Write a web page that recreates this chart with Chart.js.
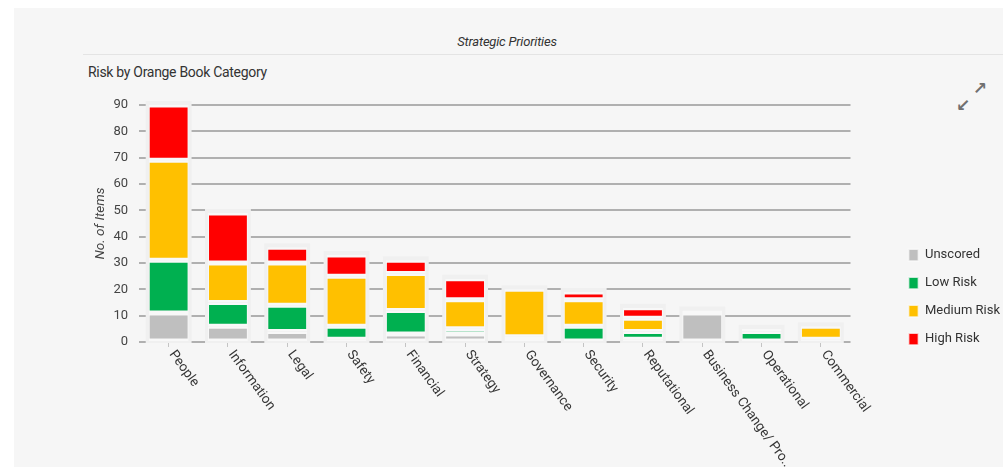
<!DOCTYPE html>
<html lang="en">
<head>
    <meta charset="UTF-8">
    <title>Strategic Priorities - Risk by Orange Book Category</title>
    <script src="https://cdn.jsdelivr.net/npm/chart.js"></script>
    <style>
        body {
            margin: 0;
            width: 1003px;
            height: 467px;
            overflow: hidden;
            background: #ffffff;
            font-family: Roboto, sans-serif;
            position: relative;
        }

        .panel {
            position: absolute;
            left: 14px;
            top: 8px;
            right: 0;
            bottom: 0;
            background: #f6f6f6;
        }

        .header-line {
            position: absolute;
            left: 83px;
            right: 0;
            top: 54px;
            height: 1px;
            background: #e4e4e4;
        }

        .page-title {
            position: absolute;
            left: 407px;
            width: 200px;
            top: 34px;
            line-height: 16px;
            text-align: center;
            font-size: 13px;
            font-style: italic;
            letter-spacing: -0.2px;
            color: #333;
        }

        .chart-title {
            position: absolute;
            left: 88px;
            top: 64px;
            line-height: 16px;
            font-size: 14px;
            letter-spacing: -0.3px;
            color: #333;
        }

        .expand {
            position: absolute;
            font-family: "DejaVu Sans", sans-serif;
            font-size: 17px;
            font-weight: bold;
            color: #707070;
            line-height: 17px;
        }

        .chart-box {
            position: absolute;
            left: 14px;
            top: 60px;
            width: 1002px;
            height: 429px;
        }
    </style>
</head>
<body>
    <div class="panel"></div>
    <div class="header-line"></div>
    <div class="page-title">Strategic Priorities</div>
    <div class="chart-title">Risk by Orange Book Category</div>
    <span class="expand" style="left: 973px; top: 80px;">&#8599;</span>
    <span class="expand" style="left: 956px; top: 97px;">&#8601;</span>

    <div class="chart-box">
        <canvas id="riskChart"></canvas>
    </div>

    <script>
        // Data
        const categories = ['People', 'Information', 'Legal', 'Safety', 'Financial', 'Strategy',
            'Governance', 'Security', 'Reputational', 'Business Change/ Pro...', 'Operational', 'Commercial'];
        const unscored = [11, 6, 4, 1, 3, 3, 2, 0, 1, 11, 0, 1];
        const lowRisk = [20, 9, 10, 5, 9, 2, 0, 6, 3, 0, 4, 0];
        const mediumRisk = [38, 15, 16, 19, 14, 11, 18, 10, 5, 0, 0, 5];
        const highRisk = [21, 19, 6, 8, 5, 8, 0, 3, 4, 1, 1, 0];
        const yTicks = [0, 10, 20, 30, 40, 50, 60, 70, 80, 90];

        Chart.defaults.font.family = 'Roboto, sans-serif';
        Chart.defaults.font.size = 13;
        Chart.defaults.color = '#444';

        // light box behind each whole stack
        const stackBoxes = {
            id: 'stackBoxes',
            beforeDatasetsDraw(chart) {
                const ctx = chart.ctx;
                const metas = chart.getSortedVisibleDatasetMetas();
                const bottom = chart.chartArea.bottom;
                ctx.save();
                ctx.fillStyle = '#f0f0f0';
                categories.forEach((c, i) => {
                    let top = bottom;
                    let x = 0, w = 0;
                    metas.forEach(m => {
                        const el = m.data[i];
                        top = Math.min(top, el.y, el.base);
                        x = el.x;
                        w = el.width;
                    });
                    ctx.fillRect(x - w / 2 - 3, top - 4, w + 6, bottom - top + 5);
                });
                ctx.restore();
            }
        };

        // slanted category labels, reading down to the right
        const slantedLabels = {
            id: 'slantedLabels',
            afterDraw(chart) {
                const ctx = chart.ctx;
                const xs = chart.scales.x;
                ctx.save();
                ctx.font = '13.5px Roboto, sans-serif';
                ctx.fillStyle = '#363636';
                ctx.textAlign = 'left';
                ctx.textBaseline = 'middle';
                categories.forEach((label, i) => {
                    ctx.save();
                    ctx.translate(xs.getPixelForValue(i) + 3, xs.top + 10);
                    ctx.rotate(54 * Math.PI / 180);
                    ctx.fillText(label, 0, 0);
                    ctx.restore();
                });
                ctx.restore();
            }
        };

        function segment(label, data, color) {
            return {
                label: label,
                data: data,
                backgroundColor: color,
                borderColor: 'rgba(250, 250, 250, 0.8)',
                borderWidth: { top: 2.5, bottom: 2.5, left: 1, right: 1 },
                borderSkipped: false,
                barPercentage: 0.84,
                stack: 'risk'
            };
        }

        const ctx = document.getElementById('riskChart').getContext('2d');
        new Chart(ctx, {
            type: 'bar',
            data: {
                labels: categories,
                datasets: [
                    segment('Unscored', unscored, '#bfbfbf'),
                    segment('Low Risk', lowRisk, '#00b050'),
                    segment('Medium Risk', mediumRisk, '#ffc000'),
                    segment('High Risk', highRisk, '#ff0000')
                ]
            },
            options: {
                responsive: true,
                maintainAspectRatio: false,
                animation: false,
                layout: {
                    padding: { top: 45, left: 0, right: 6, bottom: 0 }
                },
                plugins: {
                    legend: {
                        position: 'right',
                        labels: {
                            boxWidth: 10,
                            boxHeight: 12,
                            padding: 15,
                            color: '#333',
                            font: { size: 13 }
                        }
                    },
                    tooltip: { enabled: false }
                },
                scales: {
                    x: {
                        stacked: true,
                        border: { display: false },
                        grid: {
                            offset: false,
                            drawOnChartArea: false,
                            drawTicks: true,
                            tickLength: 5,
                            color: '#c4c4c4'
                        },
                        ticks: { display: false },
                        afterFit(scale) {
                            scale.height = 147;
                        }
                    },
                    y: {
                        stacked: true,
                        min: 0,
                        max: 90,
                        afterBuildTicks(scale) {
                            scale.ticks = yTicks.map(v => ({ value: v }));
                        },
                        border: { display: false },
                        grid: {
                            drawTicks: false,
                            color: '#b0b0b0',
                            lineWidth: 2
                        },
                        ticks: {
                            padding: 11,
                            color: '#444',
                            font: { size: 13 }
                        },
                        title: {
                            display: true,
                            text: 'No. of Items',
                            color: '#444',
                            font: { size: 13.5, style: 'italic' },
                            padding: { top: 79, bottom: 0 }
                        },
                        afterFit(scale) {
                            scale.width = 125;
                        }
                    },
                    gap: {
                        type: 'linear',
                        position: 'right',
                        display: true,
                        border: { display: false },
                        grid: { display: false },
                        ticks: { display: false },
                        afterFit(scale) {
                            scale.width = 43;
                        }
                    }
                }
            },
            plugins: [stackBoxes, slantedLabels]
        });
    </script>
</body>
</html>
